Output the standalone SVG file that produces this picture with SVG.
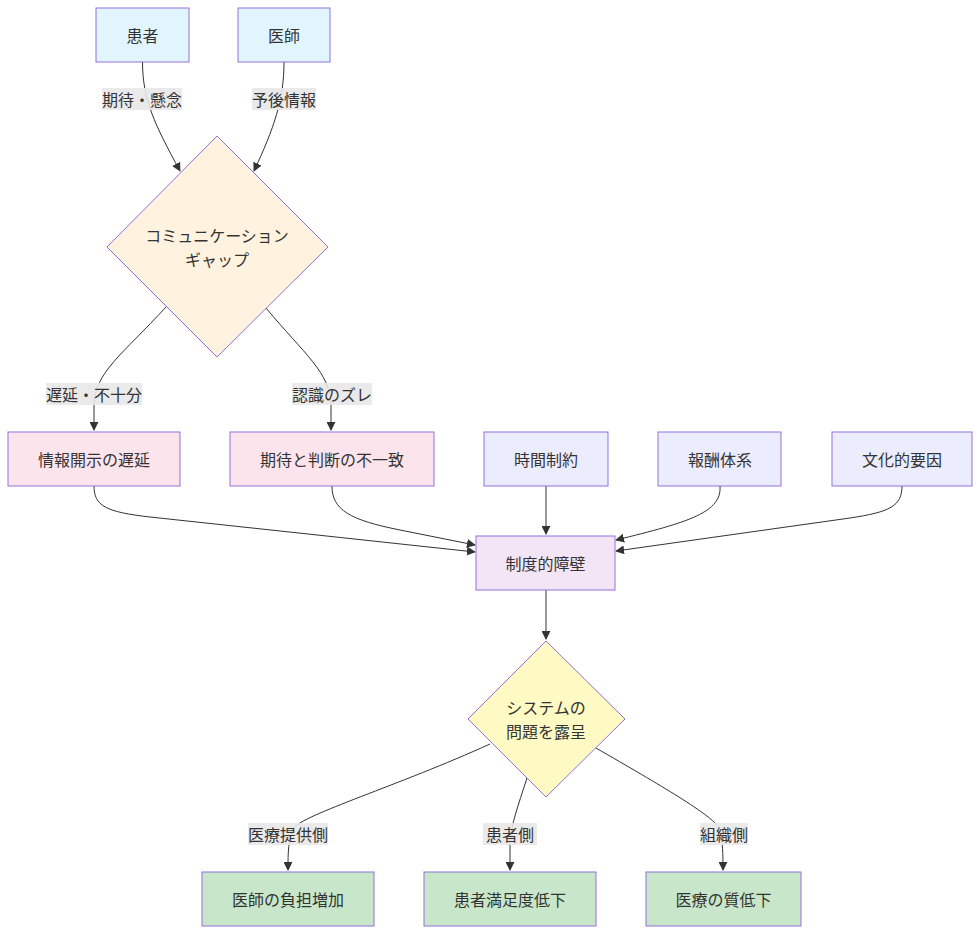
<svg xmlns="http://www.w3.org/2000/svg" width="980" height="934" viewBox="0 0 980 934">
<defs>
<marker id="arr" viewBox="0 0 10 10" refX="9" refY="5" markerWidth="9" markerHeight="9" markerUnits="userSpaceOnUse" orient="auto">
<path d="M0,0 L10,5 L0,10 z" fill="#333"/>
</marker>
<style>
text{font-family:"Noto Sans CJK JP","Noto Sans",sans-serif;font-size:16px;fill:#333;text-anchor:middle;dominant-baseline:central}
.n rect,.n polygon{stroke:#9370DB;stroke-width:1}
.blue{fill:#e1f5fe}.orange{fill:#fff3e0}.pink{fill:#fce4ec}.lav{fill:#ececff}.purp{fill:#f3e5f5}.yel{fill:#fff9c4}.green{fill:#c8e6c9}
.e path{fill:none;stroke:#333;stroke-width:1;marker-end:url(#arr)}
.lb rect{fill:#e8e8e8;opacity:0.9}
</style>
</defs>
<rect width="980" height="934" fill="#fff"/>
<g class="e" id="connectors">
<path d="M142.5,62 C142.5,100 155,125 180,171"/>
<path d="M284,62 C284,100 274,128 254,171"/>
<path d="M166,307 C122,355 95,372 94,405 L94,430"/>
<path d="M266,308 C305,355 330,372 331,405 L331,430"/>
<path d="M94,486 C94,506 106,512 150,517 L475,552"/>
<path d="M332,486 C332,510 350,520 400,530 L475,545"/>
<path d="M546,486 L546,534"/>
<path d="M720,486 C722,512 690,522 616,540"/>
<path d="M902,486 C902,506 890,512 850,518 L616,551"/>
<path d="M546,590 L546,639"/>
<path d="M490,744 C400,785 302,815 294,828 C288,840 288,852 288,870"/>
<path d="M527,778 C518,806 511,825 510,842 L510,870"/>
<path d="M596,748 C660,785 712,815 719,828 C723,842 723,855 723,870"/>
</g>
<g class="lb" id="edge-labels">
<g><rect x="102" y="88" width="80" height="22"/><text x="142" y="99">期待・懸念</text></g>
<g><rect x="252" y="88" width="64" height="22"/><text x="284" y="99">予後情報</text></g>
<g><rect x="46" y="383" width="96" height="22"/><text x="94" y="394">遅延・不十分</text></g>
<g><rect x="292" y="383" width="80" height="22"/><text x="332" y="394">認識のズレ</text></g>
<g><rect x="248" y="823" width="80" height="22"/><text x="288" y="834">医療提供側</text></g>
<g><rect x="483" y="823" width="54" height="22"/><text x="510" y="834">患者側</text></g>
<g><rect x="700" y="823" width="48" height="22"/><text x="724" y="834">組織側</text></g>
</g>
<g class="n" id="patient"><rect class="blue" x="96" y="8" width="93" height="54"/><text x="142.5" y="35">患者</text></g>
<g class="n" id="doctor"><rect class="blue" x="238" y="8" width="92" height="54"/><text x="284" y="35">医師</text></g>
<g class="n" id="gap"><polygon class="orange" points="217,136 328,247 217,357 107,247"/><text x="217" y="235">コミュニケーション</text><text x="217" y="259">ギャップ</text></g>
<g class="n" id="delay"><rect class="pink" x="8" y="432" width="172" height="54"/><text x="94" y="459">情報開示の遅延</text></g>
<g class="n" id="mismatch"><rect class="pink" x="230" y="432" width="204" height="54"/><text x="332" y="459">期待と判断の不一致</text></g>
<g class="n" id="time"><rect class="lav" x="484" y="432" width="124" height="54"/><text x="546" y="459">時間制約</text></g>
<g class="n" id="reward"><rect class="lav" x="658" y="432" width="123" height="54"/><text x="720" y="459">報酬体系</text></g>
<g class="n" id="culture"><rect class="lav" x="832" y="432" width="140" height="54"/><text x="902" y="459">文化的要因</text></g>
<g class="n" id="barrier"><rect class="purp" x="476" y="536" width="139" height="54"/><text x="545.5" y="563">制度的障壁</text></g>
<g class="n" id="system"><polygon class="yel" points="546,641 625,719 546,797 468,719"/><text x="546" y="707">システムの</text><text x="546" y="731">問題を露呈</text></g>
<g class="n" id="burden"><rect class="green" x="202" y="872" width="172" height="54"/><text x="288" y="899">医師の負担増加</text></g>
<g class="n" id="satisfaction"><rect class="green" x="424" y="872" width="172" height="54"/><text x="510" y="899">患者満足度低下</text></g>
<g class="n" id="quality"><rect class="green" x="646" y="872" width="155" height="54"/><text x="723.5" y="899">医療の質低下</text></g>
</svg>
